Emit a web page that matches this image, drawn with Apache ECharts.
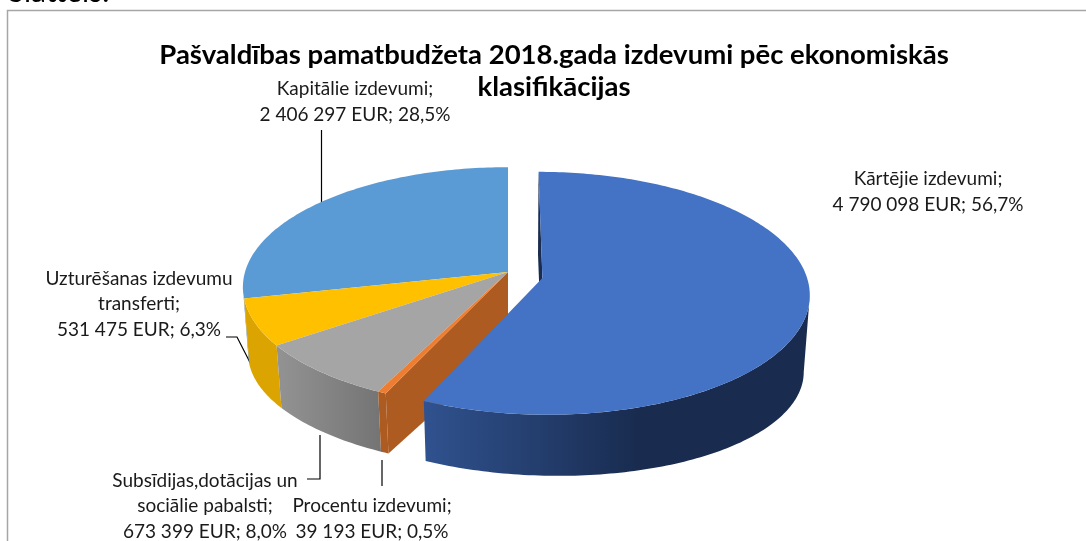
<!DOCTYPE html>
<html><head><meta charset="utf-8">
<style>html,body{margin:0;padding:0;background:#fff}#c{width:1086px;height:541px}</style>
<script src="https://cdn.jsdelivr.net/npm/echarts@6/dist/echarts.min.js"></script>
</head><body><div id="c"></div>
<script>
// ---- data ----
var categories = ['Kārtējie izdevumi','Procentu izdevumi','Subsīdijas,dotācijas un sociālie pabalsti','Uzturēšanas izdevumu transferti','Kapitālie izdevumi'];
var values = [4790098, 39193, 673399, 531475, 2406297];
var percentLabels = ['56,7%','0,5%','8,0%','6,3%','28,5%'];
var topColors = ['#4472C4','#ED7D31','#A5A5A5','#FFC000','#5B9BD5'];
var wallColorsA = ['#30528F','#AD5B20','#939393','#DBA400','#41719C'];
var wallColorsB = ['#192C50','#AD5B20','#747474','#DBA400','#41719C'];

var chart = echarts.init(document.getElementById('c'), null, {renderer:'canvas'});
var FONT = 'Lato, Carlito, sans-serif';
var total = values.reduce(function(a,b){return a+b;},0);
var angles = []; (function(){var s=0; values.forEach(function(v){var e=s+v/total*360; angles.push([s,e]); s=e;});})();
function fmt(v){return String(v).replace(/\B(?=(\d{3})+$)/g,' ');}
function line3(i){return fmt(values[i])+' EUR; '+percentLabels[i];}

// projection of the tilted pie
var P = {x0:508,y0:272,rx:263,ry:118,k:0.1255,kb:0.1255,hz:75,mz:0.02,ryb:0.85,tilt:5};
function proj(U,V,z){
  var k = P.k + (P.kb-P.k)*z;
  var w = 1 - k*V + P.mz*z;
  var ry = P.ry*(1+(P.ryb-1)*z);
  return [P.x0 + P.rx*U/w, P.y0 + (ry*V + P.hz*z + P.tilt*U*z)/w];
}
var OFFSET = [[0.13,0.05],[0,0],[0,0],[0,0],[0,0]];
function rim(i,deg,z){
  var t=deg*Math.PI/180, o=OFFSET[i];
  return proj(o[0]+Math.sin(t), o[1]-Math.cos(t), z);
}
function centre(i,z){return proj(OFFSET[i][0],OFFSET[i][1],z);}
function extreme(i,z,right){
  var best=0,bx=right?-1e9:1e9;
  for(var d=right?60:200;d<=(right?150:300);d+=0.25){var x=rim(i,d,z)[0];
    if(right?x>bx:x<bx){bx=x;best=d;}}
  return best;
}
function arc(i,a,b,z){var pts=[],n=Math.max(2,Math.ceil(Math.abs(b-a)/1));
  for(var j=0;j<=n;j++)pts.push(rim(i,a+(b-a)*j/n,z));return pts;}
function wallPoly(i,grp){
  var a=angles[i][0],b=angles[i][1];
  var aT=Math.max(a,i===0?extreme(i,0,true):0),aB=Math.max(a,i===0?extreme(i,1,true):0);
  var bT=Math.min(b,i===0?360:extreme(i,0,false)),bB=Math.min(b,i===0?360:extreme(i,1,false));
  if(bT<=aT||bB<=aB)return null;
  return arc(i,aT,bT,0).concat(arc(i,bB,aB,1));
}
function poly(points,fill,z2){return {type:'polygon',z2:z2||0,shape:{points:points},style:{fill:fill,stroke:null}};}
function grad(i,pts){
  var xs=pts.map(function(p){return p[0];});
  return {type:'linear',global:true,x:Math.min.apply(null,xs),y:0,x2:Math.max.apply(null,xs),y2:0,
    colorStops:[{offset:0,color:wallColorsA[i]},{offset:i===0?0.55:1,color:wallColorsB[i]},{offset:1,color:wallColorsB[i]}]};
}
function renderSlice(params,api){
  var i=api.value(0),a=angles[i][0],b=angles[i][1],ch=[];
  if(i===0){ // far cut wall of the large slice
    ch.push(poly([centre(i,0),rim(i,0,0),rim(i,0,1),centre(i,1)],'#1A2D50'));
  }
  if(i===1){ // near cut wall of the small slice
    ch.push(poly([centre(i,0),rim(i,a,0),rim(i,a,1),centre(i,1)],wallColorsA[1]));
  }
  var wp=wallPoly(i);
  if(wp) ch.push(poly(wp,grad(i,wp)));
  var top=[centre(i,0)].concat(arc(i,a,b,0));
  ch.push(poly(top,topColors[i]));
  return {type:'group',children:ch};
}
var paintOrder=[4,3,2,1,0];

var labelStyle={fontFamily:FONT,fontSize:19,fill:'#1a1a1a',textAlign:'center',textVerticalAlign:'middle'};
function lab(x,y,t){return {type:'text',x:x,y:y,silent:true,style:Object.assign({},labelStyle,{text:t,lineHeight:25.5})};}
function lead(pts){return {type:'polyline',silent:true,shape:{points:pts},style:{stroke:'#000',lineWidth:1.2,fill:null}};}

chart.setOption({
  animation:false,
  backgroundColor:'#fff',
  title:{text:'Pašvaldības pamatbudžeta 2018.gada izdevumi pēc ekonomiskās\nklasifikācijas',left:549,top:34,textAlign:'center',
    textStyle:{fontFamily:FONT,fontSize:27.5,fontWeight:'bold',color:'#000',lineHeight:32}},
  graphic:[
    {type:'text',x:8,y:-23,silent:true,style:{text:'Slattels.',fontFamily:FONT,fontSize:30,fill:'#000'}},
    {type:'polyline',silent:true,shape:{points:[[7.5,541],[7.5,10.5],[1086,10.5]]},style:{stroke:'#A6A6A6',lineWidth:1.5,fill:null}},
    lead([[321.5,130],[321.5,204]]),
    lead([[226,337],[237,337],[260,382]]),
    lead([[307,479],[320,479],[320,435]]),
    lead([[382,460],[382,486]]),
    lab(928,192,categories[0]+';\n'+line3(0)),
    lab(355,102,categories[4]+';\n'+line3(4)),
    lab(139,304,'Uzturēšanas izdevumu\ntransferti;\n'+line3(3)),
    lab(205,506,'Subsīdijas,dotācijas un\nsociālie pabalsti;\n'+line3(2)),
    lab(372,519,categories[1]+';\n'+line3(1))
  ],
  series:[{type:'custom',coordinateSystem:'none',silent:true,
    data:paintOrder.map(function(i){return [i,values[i]];}),
    renderItem:renderSlice,clip:false}]
});
</script></body></html>
